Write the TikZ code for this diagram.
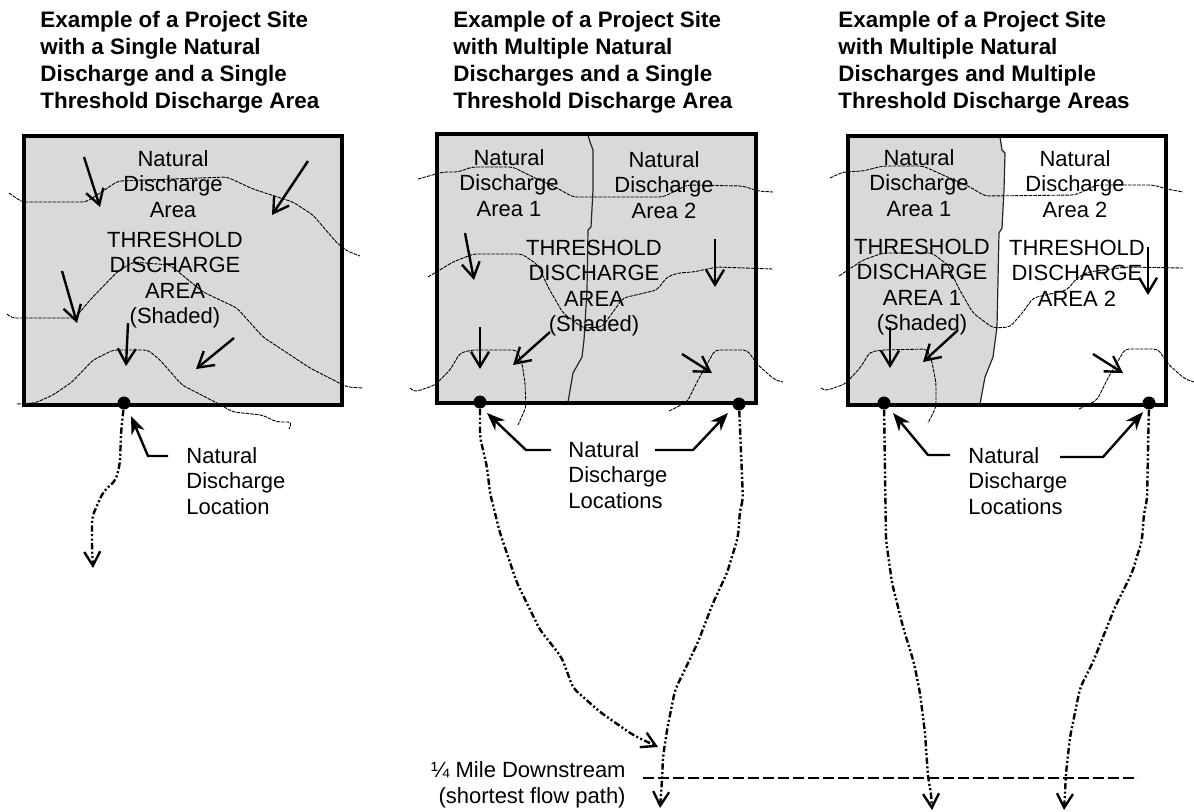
\documentclass[tikz,border=0pt]{standalone}
\usepackage{fontspec}
\setmainfont{Liberation Sans}
\usetikzlibrary{arrows.meta}
\definecolor{shaded}{RGB}{217,217,217}
\tikzstyle{site}=[line width=1.7pt, line join=miter]
\tikzstyle{divide}=[line width=0.6pt, draw=black!85]
\tikzstyle{contour}=[line width=0.45pt, dash pattern=on 1.8pt off 0.5pt, rounded corners=2pt]
\tikzstyle{slope}=[line width=1.2pt, -{Straight Barb[length=7.5pt,width=9pt]}]
\tikzstyle{leader}=[line width=1.2pt, -{Stealth[length=9pt,width=7pt]}]
\tikzstyle{flow}=[line width=1.2pt, dash pattern=on 3.2pt off 1.2pt on 1pt off 1.2pt on 1pt off 1.2pt, -{Straight Barb[length=7pt,width=8pt]}, rounded corners=3pt]
\tikzstyle{mile}=[line width=1.1pt, dash pattern=on 5.5pt off 2pt]
\tikzstyle{outlet}=[circle, fill, inner sep=0pt, minimum size=6.5pt]
\tikzstyle{title}=[anchor=north west, align=left, inner sep=0pt, font=\fontsize{11.2}{13.45}\selectfont\bfseries]
\tikzstyle{areatext}=[align=center, inner sep=0pt, font=\fontsize{11}{12.8}\selectfont]
\tikzstyle{note}=[anchor=west, align=left, inner sep=0pt, font=\fontsize{11}{12.8}\selectfont]
\newcommand{\outlet}{\node[outlet]}
\newcommand{\areatext}{\node[areatext]}
\begin{document}
\begin{tikzpicture}[x=0.5pt, y=-0.5pt]
            \useasboundingbox (0,0) rectangle (1194,811);
            % shading
            \fill[shaded] (24,136) rectangle (342,405);
            \fill[shaded] (437,134) rectangle (756,403);
            \fill[shaded] (848,136) -- (1000,136) -- (1002,150) -- (1005,153) -- (1004,190) -- (1002,228) -- (999,233) -- (997,327) -- (993,357) -- (985,377) -- (980,405) -- (848,405) -- cycle;
            % area limits
            \draw[divide] (588,135) -- (590,142) -- (593,150) -- (593,190) -- (591,227) -- (588,230) -- (587,290) -- (584,340) -- (582,357) -- (573,373) -- (568,402);
            \draw[divide] (1000,137) -- (1002,150) -- (1005,153) -- (1004,190) -- (1002,228) -- (999,233) -- (997,327) -- (993,357) -- (985,377) -- (980,404);
            % contours, left site
            \draw[contour] (9,193) -- (22,202) -- (86,202) -- (100,193) -- (118,181) -- (227,177) -- (253,189) -- (293,202) -- (313,215) -- (337,243) -- (347,251) -- (360,256);
            \draw[contour] (7,314) -- (12,318) -- (75,318) -- (90,300) -- (117,272) -- (133,262) -- (170,265) -- (203,292) -- (237,308) -- (263,337) -- (310,368) -- (347,387) -- (363,388);
            \draw[contour] (17,404) -- (35,403) -- (53,395) -- (72,382) -- (93,360) -- (113,350) -- (148,350) -- (160,360) -- (182,385) -- (217,403) -- (233,412) -- (262,415) -- (277,422) -- (292,422) -- (289,429);
            % contours, middle site
            \draw[contour] (418,179) -- (443,172) -- (458,172) -- (472,167) -- (513,167) -- (533,177) -- (557,188) -- (573,197) -- (663,197) -- (687,185) -- (743,186) -- (758,191) -- (773,192);
            \draw[contour] (428,277) -- (453,262) -- (473,254) -- (522,254) -- (538,265) -- (548,287) -- (563,313) -- (583,328) -- (602,327) -- (613,312) -- (623,298) -- (657,290) -- (667,277) -- (678,273) -- (693,272) -- (717,267) -- (773,269);
            \draw[contour] (410,388) -- (415,392) -- (435,385) -- (450,370) -- (460,353) -- (472,350) -- (517,350) -- (522,363) -- (525,383) -- (526,407) -- (518,425);
            \draw[contour] (669,411) -- (687,402) -- (698,380) -- (715,350) -- (747,350) -- (758,365) -- (775,380) -- (783,382);
            % contours, right site
            \draw[contour] (830,178) -- (843,172) -- (863,171) -- (883,166) -- (923,166) -- (943,175) -- (970,187) -- (985,196) -- (1075,195) -- (1097,185) -- (1153,185) -- (1167,189) -- (1183,192);
            \draw[contour] (839,276) -- (863,260) -- (883,253) -- (932,253) -- (948,265) -- (958,287) -- (973,313) -- (993,328) -- (1010,327) -- (1023,312) -- (1033,298) -- (1067,290) -- (1077,278) -- (1088,272) -- (1127,267) -- (1183,268);
            \draw[contour] (821,388) -- (825,391) -- (845,384) -- (860,368) -- (870,352) -- (882,350) -- (927,349) -- (932,362) -- (936,383) -- (936,407) -- (928,423);
            \draw[contour] (1079,409) -- (1097,400) -- (1108,378) -- (1125,349) -- (1158,349) -- (1168,364) -- (1185,379) -- (1194,382);
            % site frames
            \draw[site] (24,136) rectangle (342,405);
            \draw[site] (437,134) rectangle (756,403);
            \draw[site] (848,136) rectangle (1166,405);
            % titles
            \node[title] (title1) at (40,11) {Example of a Project Site\\with a Single Natural\\Discharge and a Single\\Threshold Discharge Area};
            \node[title] (title2) at (453,11) {Example of a Project Site\\with Multiple Natural\\Discharges and a Single\\Threshold Discharge Area};
            \node[title] (title3) at (838,11) {Example of a Project Site\\with Multiple Natural\\Discharges and Multiple\\Threshold Discharge Areas};
            % area texts
            \areatext (nda) at (173,184) {Natural\\Discharge\\Area};
            \areatext (tda) at (175,280) {THRESHOLD\\DISCHARGE\\AREA\\(Shaded)};
            \areatext (nda1) at (509,183) {Natural\\Discharge\\Area 1};
            \areatext (nda2) at (664,185) {Natural\\Discharge\\Area 2};
            \areatext (tdb) at (594,288) {THRESHOLD\\DISCHARGE\\AREA\\(Shaded)};
            \areatext (ndb1) at (919,183) {Natural\\Discharge\\Area 1};
            \areatext (ndb2) at (1075,184) {Natural\\Discharge\\Area 2};
            \areatext (tdc1) at (922,287) {THRESHOLD\\DISCHARGE\\AREA 1\\(Shaded)};
            \areatext (tdc2) at (1077,273) {THRESHOLD\\DISCHARGE\\AREA 2};
            % discharge points
            \outlet (out1) at (124,403) {};
            \outlet (out2) at (480,402) {};
            \outlet (out3) at (739,404) {};
            \outlet (out4) at (884,403) {};
            \outlet (out5) at (1149,403) {};
            % slope arrows
            \coordinate (a1) at (84,157); \coordinate (b1) at (100,207); \draw[slope] (a1) -- (b1);
            \coordinate (a2) at (308,161); \coordinate (b2) at (272,215); \draw[slope] (a2) -- (b2);
            \coordinate (a3) at (62,271); \coordinate (b3) at (77,323); \draw[slope] (a3) -- (b3);
            \coordinate (a4) at (128,323); \coordinate (b4) at (126,366); \draw[slope] (a4) -- (b4);
            \coordinate (a5) at (234,338); \coordinate (b5) at (196,369); \draw[slope] (a5) -- (b5);
            \coordinate (a6) at (465,233); \coordinate (b6) at (474,280); \draw[slope] (a6) -- (b6);
            \coordinate (a7) at (715,239); \coordinate (b7) at (715,287); \draw[slope] (a7) -- (b7);
            \coordinate (a8) at (480,327); \coordinate (b8) at (480,369); \draw[slope] (a8) -- (b8);
            \coordinate (a9) at (550,332); \coordinate (b9) at (513,365); \draw[slope] (a9) -- (b9);
            \coordinate (a10) at (682,354); \coordinate (b10) at (712,373); \draw[slope] (a10) -- (b10);
            \coordinate (a11) at (890,327); \coordinate (b11) at (890,368); \draw[slope] (a11) -- (b11);
            \coordinate (a12) at (958,330); \coordinate (b12) at (923,362); \draw[slope] (a12) -- (b12);
            \coordinate (a13) at (1148,247); \coordinate (b13) at (1148,295); \draw[slope] (a13) -- (b13);
            \coordinate (a14) at (1093,354); \coordinate (b14) at (1123,373); \draw[slope] (a14) -- (b14);
            % location labels
            \node[note] (loc1) at (186,481) {Natural\\Discharge\\Location};
            \node[note] (loc2) at (568,475) {Natural\\Discharge\\Locations};
            \node[note] (loc3) at (968,481) {Natural\\Discharge\\Locations};
            \coordinate (l1) at (168,456); \coordinate (t1) at (131,416);
            \draw[leader] (l1) -- (148,456) -- (t1);
            \coordinate (l2) at (551,450); \coordinate (t2) at (487,413);
            \draw[leader] (l2) -- (526,450) -- (t2);
            \coordinate (l3) at (655,450); \coordinate (t3) at (728,413);
            \draw[leader] (l3) -- (693,450) -- (t3);
            \coordinate (l4) at (950,455); \coordinate (t4) at (893,413);
            \draw[leader] (l4) -- (928,455) -- (t4);
            \coordinate (l5) at (1060,457); \coordinate (t5) at (1143,412);
            \draw[leader] (l5) -- (1103,457) -- (t5);
            % flow paths
            \coordinate (e1) at (93,568);
            \draw[flow] (out1) -- (121,433) -- (120,463) -- (116,480) -- (103,492) -- (92,517) -- (92,547) -- (e1);
            \coordinate (e2) at (658,747);
            \draw[flow] (out2) -- (480,437) -- (487,467) -- (490,493) -- (500,533) -- (517,583) -- (540,630) -- (552,645) -- (562,658) -- (573,688) -- (600,712) -- (633,735) -- (e2);
            \coordinate (e3) at (660,808);
            \draw[flow] (out3) -- (743,500) -- (740,510) -- (738,537) -- (727,573) -- (713,603) -- (698,642) -- (688,663) -- (675,690) -- (667,730) -- (663,757) -- (662,780) -- (e3);
            \coordinate (e4) at (932,810);
            \draw[flow] (out4) -- (886,540) -- (892,583) -- (903,627) -- (914,663) -- (920,693) -- (925,733) -- (928,777) -- (931,793) -- (e4);
            \coordinate (e5) at (1064,810);
            \draw[flow] (out5) -- (1147,500) -- (1144,513) -- (1142,540) -- (1132,573) -- (1115,607) -- (1093,662) -- (1080,688) -- (1070,737) -- (1066,773) -- (1065,793) -- (e5);
            % downstream limit
            \node[areatext, anchor=east, align=right] (quarter) at (626,785) {¼ Mile Downstream\\(shortest flow path)};
            \coordinate (m1) at (643,778); \coordinate (m2) at (1138,778);
            \draw[mile] (m1) -- (m2);
        \end{tikzpicture}
\end{document}
